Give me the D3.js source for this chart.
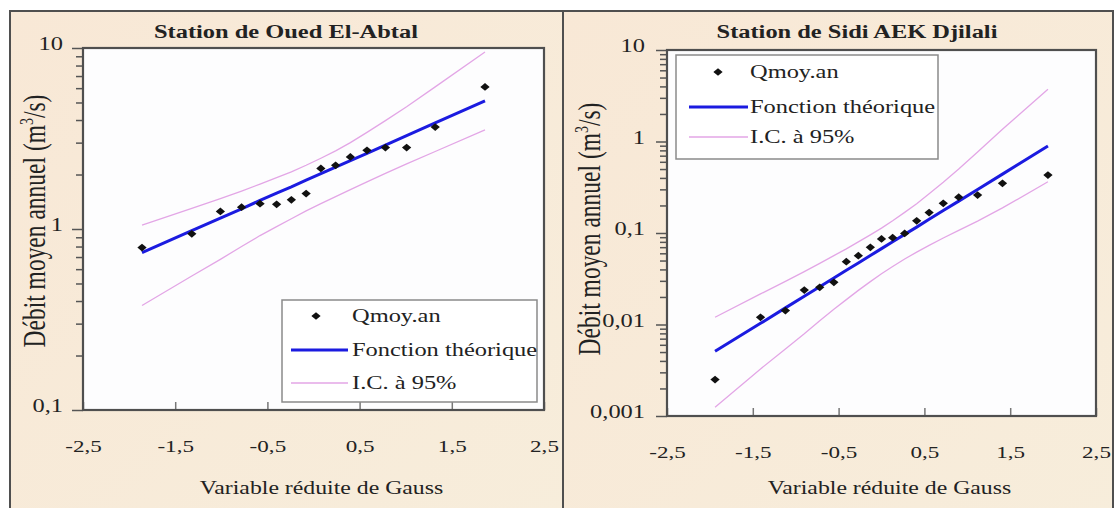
<!DOCTYPE html>
<html><head><meta charset="utf-8">
<script src="https://cdn.jsdelivr.net/npm/d3@7"></script>
<style>
body{margin:0;background:#fff;}
svg text{font-family:"Liberation Serif","Tinos","DejaVu Serif","Times New Roman",Times,serif !important;fill:#222;}
</style>
</head><body>
<svg id="c" width="1117" height="508"></svg>
<script>
// ---------- DATA ----------
// Station de Oued El-Abtal
const gaussA = [-1.86,-1.32,-1.01,-0.78,-0.58,-0.40,-0.24,-0.08,0.08,0.24,0.40,0.58,0.78,1.01,1.32,1.86];
const qmoyA  = [0.79,0.94,1.25,1.32,1.38,1.37,1.45,1.57,2.16,2.25,2.50,2.72,2.82,2.82,3.66,6.09];
const theoA  = [0.74,0.98,1.15,1.29,1.44,1.58,1.71,1.86,2.02,2.20,2.39,2.62,2.91,3.28,3.86,5.11];
const icUpA  = [1.05,1.30,1.47,1.62,1.77,1.92,2.07,2.25,2.46,2.70,3.00,3.42,3.97,4.74,6.10,9.50];
const icLoA  = [0.378,0.55,0.68,0.80,0.92,1.03,1.14,1.26,1.38,1.51,1.65,1.82,2.03,2.29,2.68,3.53];
// Station de Sidi AEK Djilali
const gaussB = [-1.94,-1.41,-1.12,-0.90,-0.72,-0.555,-0.41,-0.27,-0.13,0,0.13,0.27,0.41,0.555,0.72,0.90,1.12,1.41,1.94];
const qmoyB  = [0.0025,0.012,0.0142,0.0238,0.0255,0.0289,0.0486,0.0565,0.0698,0.086,0.089,0.099,0.136,0.167,0.211,0.246,0.26,0.349,0.43];
const theoB  = [0.0051,0.0103,0.0152,0.0204,0.0259,0.0322,0.0391,0.0471,0.0567,0.0675,0.0802,0.0966,0.116,0.141,0.176,0.223,0.299,0.44,0.891];
const icUpB  = [0.012,0.0216,0.0296,0.0379,0.0466,0.0566,0.0671,0.080,0.0953,0.113,0.136,0.168,0.209,0.269,0.359,0.50,0.769,1.36,3.72];
const icLoB  = [0.00125,0.00327,0.0054,0.0079,0.011,0.0147,0.0187,0.0236,0.0294,0.0358,0.043,0.0519,0.0618,0.0733,0.0881,0.107,0.135,0.188,0.363];
// ticks
const xTicks = [-2.5,-1.5,-0.5,0.5,1.5,2.5];
const xTickLabels = ["-2,5","-1,5","-0,5","0,5","1,5","2,5"];
const yTicksA = [0.1,1,10];
const yTickLabelsA = ["0,1","1","10"];
const yTicksB = [0.001,0.01,0.1,1,10];
const yTickLabelsB = ["0,001","0,01","0,1","1","10"];
const legendLabels = ["Qmoy.an","Fonction théorique","I.C. à 95%"];
const titles = ["Station de Oued El-Abtal","Station de Sidi AEK Djilali"];
const xTitle = "Variable réduite de Gauss";

// ---------- DRAW ----------
const FONT = '"Liberation Serif","Tinos","DejaVu Serif","Times New Roman",serif';
const svg = d3.select("#c");
const STRETCH = 1.32;
function stretch(sel){
  sel.each(function(){
    const w = this.getComputedTextLength();
    d3.select(this).attr("textLength", w*STRETCH).attr("lengthAdjust","spacingAndGlyphs");
  });
}
const BLUE="#1b1be0", PINK="#e3a6e6", FRAME="#4f4f4f";

const defs = svg.append("defs");
const grad = defs.append("linearGradient").attr("id","bg").attr("x1","0").attr("x2","1").attr("y1","0").attr("y2","1");
grad.append("stop").attr("offset","0").attr("stop-color","#f8e8d6");
grad.append("stop").attr("offset","1").attr("stop-color","#f7eddb");

const marker = d3.symbol().type(d3.symbolSquare).size(30);
function markerT(cx,cy){ return `translate(${cx},${cy}) scale(1.2,1) rotate(45)`; }

const panels = [
  {title:titles[0], fx0:10, fx1:563, plot:{x0:83,x1:544,y0:48,y1:410}, yDom:[0.1,10],
   yT:yTicksA, yL:yTickLabelsA, g:gaussA, q:qmoyA, th:theoA, up:icUpA, lo:icLoA,
   leg:{x:282,y:300,w:255,h:102,mx:316,tx:352,l0:291,l1:348,ys:[316,350,383]},
   ytx:45, yty:221, titleX:286, labR:63},
  {title:titles[1], fx0:563, fx1:1113, plot:{x0:667,x1:1096,y0:50,y1:416}, yDom:[0.001,10],
   yT:yTicksB, yL:yTickLabelsB, g:gaussB, q:qmoyB, th:theoB, up:icUpB, lo:icLoB,
   leg:{x:676,y:55,w:262,h:104,mx:718,tx:750,l0:689,l1:748,ys:[72,107,137]},
   ytx:600, yty:229, titleX:857, labR:645}
];

panels.forEach(p=>{
  const g = svg.append("g").attr("font-family",FONT);
  g.append("rect").attr("x",p.fx0).attr("y",11).attr("width",p.fx1-p.fx0).attr("height",520)
    .attr("fill","url(#bg)");
  const P = p.plot;
  const x = d3.scaleLinear().domain([-2.5,2.5]).range([P.x0,P.x1]);
  const y = d3.scaleLog().domain(p.yDom).range([P.y1,P.y0]);

  g.append("rect").attr("x",P.x0).attr("y",P.y0).attr("width",P.x1-P.x0).attr("height",P.y1-P.y0)
    .attr("fill","#fdfdfe");

  g.append("text").attr("x",p.titleX).attr("y",38).attr("text-anchor","middle")
    .attr("font-size",18.5).attr("font-weight","bold").text(p.title).call(stretch);

  const xa = g.append("g").attr("transform",`translate(0,${P.y1})`)
    .call(d3.axisBottom(x).tickValues(xTicks).tickFormat((d,i)=>xTickLabels[i]).tickSizeInner(-8).tickSizeOuter(0).tickPadding(42));
  xa.attr("font-family",FONT);
  xa.select(".domain").remove();
  xa.selectAll("line").attr("stroke","#777").attr("stroke-width",1.5);
  xa.selectAll("text").attr("font-size",17.5).attr("fill","#222")
    .attr("dy",null).attr("y",42).call(stretch);

  const minor = [];
  const d0 = Math.round(Math.log10(p.yDom[0])), d1 = Math.round(Math.log10(p.yDom[1]));
  for(let e=d0;e<d1;e++) for(let k=2;k<=9;k++) minor.push(k*Math.pow(10,e));
  const ym = g.append("g").attr("transform",`translate(${P.x0},0)`)
    .call(d3.axisLeft(y).tickValues(minor).tickFormat("").tickSizeInner(7).tickSizeOuter(0));
  ym.select(".domain").remove();
  ym.selectAll("line").attr("stroke","#555").attr("stroke-width",1.5);

  const ya = g.append("g").attr("transform",`translate(${P.x0},0)`)
    .call(d3.axisLeft(y).tickValues(p.yT).tickFormat((d,i)=>p.yL[i]).tickSizeInner(11).tickSizeOuter(0).tickPadding(8));
  ya.attr("font-family",FONT);
  ya.select(".domain").remove();
  ya.selectAll("line").attr("stroke","#555").attr("stroke-width",1.5);
  ya.selectAll("text").attr("font-size",18.5).attr("fill","#222")
    .attr("dy","0.1em").attr("x",-(P.x0-p.labR)).call(stretch);

  g.append("text").attr("x",(P.x0+P.x1)/2+8).attr("y",494).attr("text-anchor","middle")
    .attr("font-size",18).text(xTitle).call(stretch);
  const yt = g.append("text").attr("transform",`translate(${p.ytx},${p.yty}) rotate(-90) scale(1,${STRETCH})`)
    .attr("text-anchor","middle").attr("font-size",23.5);
  yt.append("tspan").text("Débit moyen annuel (m");
  yt.append("tspan").attr("font-size",14).attr("dy",-9).text("3");
  yt.append("tspan").attr("dy",9).text("/s)");

  const pts = (vals)=>p.g.map((v,i)=>[x(v),y(vals[i])]);
  const line = d3.line();
  g.append("path").attr("d",line(pts(p.up))).attr("fill","none").attr("stroke",PINK).attr("stroke-width",1.3);
  g.append("path").attr("d",line(pts(p.lo))).attr("fill","none").attr("stroke",PINK).attr("stroke-width",1.3);
  g.append("path").attr("d",line(pts(p.th))).attr("fill","none").attr("stroke",BLUE).attr("stroke-width",3);
  g.selectAll("path.pt").data(p.q).enter().append("path").attr("class","pt")
    .attr("d",marker).attr("transform",(d,i)=>markerT(x(p.g[i]),y(d))).attr("fill","#111");

  g.append("rect").attr("x",P.x0).attr("y",P.y0).attr("width",P.x1-P.x0).attr("height",P.y1-P.y0)
    .attr("fill","none").attr("stroke",FRAME).attr("stroke-width",2.2);

  const L = p.leg;
  const lg = g.append("g");
  lg.append("rect").attr("x",L.x).attr("y",L.y).attr("width",L.w).attr("height",L.h)
    .attr("fill","#fff").attr("stroke","#8a8a8a").attr("stroke-width",1.5);
  lg.append("path").attr("d",marker).attr("transform",markerT(L.mx,L.ys[0])).attr("fill","#111");
  lg.append("line").attr("x1",L.l0).attr("x2",L.l1).attr("y1",L.ys[1]).attr("y2",L.ys[1]).attr("stroke",BLUE).attr("stroke-width",3);
  lg.append("line").attr("x1",L.l0).attr("x2",L.l1).attr("y1",L.ys[2]).attr("y2",L.ys[2]).attr("stroke",PINK).attr("stroke-width",1.3);
  legendLabels.forEach((t,i)=>{
    lg.append("text").attr("x",L.tx).attr("y",L.ys[i]+6).attr("font-size",18.5).text(t).call(stretch);
  });
});

svg.append("path").attr("d","M10,520 V11 H1113 V520").attr("fill","none").attr("stroke",FRAME).attr("stroke-width",2);
svg.append("line").attr("x1",563).attr("x2",563).attr("y1",11).attr("y2",520).attr("stroke",FRAME).attr("stroke-width",2);
</script>
</body></html>
